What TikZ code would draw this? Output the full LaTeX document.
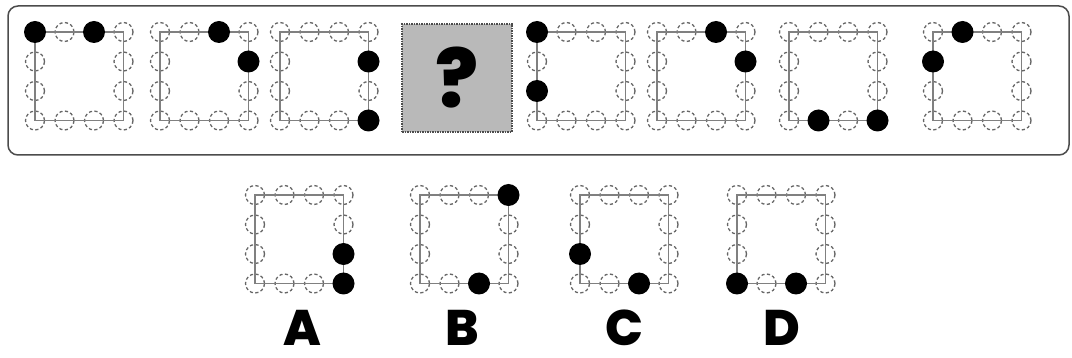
\documentclass[tikz,border=0pt]{standalone}
\usepackage{fontspec}
\setsansfont{Poppins}[BoldFont={Poppins ExtraBold}]
\usetikzlibrary{positioning}
\tikzset{
  ringdot/.style={draw=black!60, circle, minimum size=19pt, inner sep=0pt, line width=1.3pt, dash pattern=on 3.2pt off 2.4pt},
  bead/.style={fill=black, circle, minimum size=22pt, inner sep=0pt},
  link/.style={draw=black!50, line width=1.3pt},
  letter/.style={font=\sffamily\bfseries\fontsize{50}{50}\selectfont, inner sep=0pt}
}
\begin{document}
\begin{tikzpicture}[x=1pt, y=-1pt]
\useasboundingbox (0,0) rectangle (1072,358);
\draw[rounded corners=10pt, line width=1.5pt, gray!60!black] (8,6) rectangle (1069,155);
% rings of small circles
\foreach \p/\x/\y in {p1/35/32, p2/160/32, p3/280/32, p5/537/32, p6/657/32, p7/789/32, p8/933/32, pA/255/195, pB/420/195, pC/580/195, pD/737/195} {
  \foreach \i/\j in {0/0,1/0,2/0,3/0,3/1,3/2,3/3,2/3,1/3,0/3,0/2,0/1}
    \node[ringdot] (\p-\i\j) at (\x+29.5*\i, \y+29.5*\j) {};
  \draw[link] (\p-00.center) -- (\p-30.center) -- (\p-33.center) -- (\p-03.center) -- cycle;
}
% the missing one
\node[draw=gray!60!black, densely dotted, line width=1.5pt, fill=gray!55, minimum width=110pt, minimum height=108pt] (ask) at (457,78) {\sffamily\bfseries\fontsize{80}{80}\selectfont ?};
% black beads
\node[bead] (b1a) at (p1-00) {};
\node[bead] (b1b) at (p1-20) {};
\node[bead] (b2a) at (p2-20) {};
\node[bead] (b2b) at (p2-31) {};
\node[bead] (b3a) at (p3-31) {};
\node[bead] (b3b) at (p3-33) {};
\node[bead] (b5a) at (p5-00) {};
\node[bead] (b5b) at (p5-02) {};
\node[bead] (b6a) at (p6-20) {};
\node[bead] (b6b) at (p6-31) {};
\node[bead] (b7a) at (p7-13) {};
\node[bead] (b7b) at (p7-33) {};
\node[bead] (b8a) at (p8-10) {};
\node[bead] (b8b) at (p8-01) {};
\node[bead] (bAa) at (pA-32) {};
\node[bead] (bAb) at (pA-33) {};
\node[bead] (bBa) at (pB-30) {};
\node[bead] (bBb) at (pB-23) {};
\node[bead] (bCa) at (pC-02) {};
\node[bead] (bCb) at (pC-23) {};
\node[bead] (bDa) at (pD-03) {};
\node[bead] (bDb) at (pD-23) {};
% answer letters
\node[letter] (labA) at (302,328) {A};
\node[letter] (labB) at (462,328) {B};
\node[letter] (labC) at (624,328) {C};
\node[letter] (labD) at (782,328) {D};
\end{tikzpicture}
\end{document}
